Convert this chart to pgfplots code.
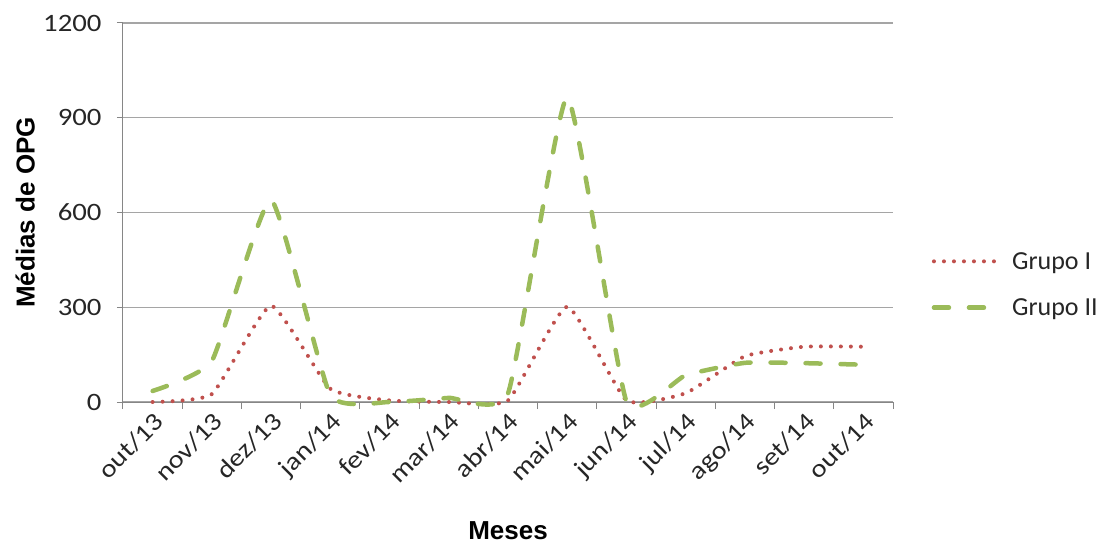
\documentclass[border=0pt]{standalone}
\usepackage{pgfplots}
\pgfplotsset{compat=1.18}
\usepackage{fontspec}
\setmainfont{Carlito}[FakeStretch=1.15]
\newfontfamily\legfont{Carlito}
\newfontfamily\titlefont{Liberation Sans}
\definecolor{redc}{RGB}{192,80,77}
\definecolor{greenc}{RGB}{155,187,89}
\definecolor{gridc}{RGB}{165,165,165}
\definecolor{axc}{RGB}{134,134,134}
\begin{document}
\begin{tikzpicture}
\begin{axis}[
  name=ax,
  scale only axis,
  width=770bp, height=379bp,
  xmin=-0.5, xmax=12.5,
  ymin=0, ymax=1200,
  axis lines=left,
  axis line style={-, draw=axc, line width=1bp},
  xtick={0,...,12},
  xticklabels={out/13,nov/13,dez/13,jan/14,fev/14,mar/14,abr/14,mai/14,jun/14,jul/14,ago/14,set/14,out/14},
  minor xtick={-0.5,0.5,...,12.5},
  major x tick style={draw=none},
  minor x tick style={draw=axc, line width=1bp},
  ytick={0,300,600,900,1200},
  y tick style={draw=axc, line width=1bp},
  tick align=outside,
  major tick length=6bp,
  minor tick length=7bp,
  ymajorgrids,
  major grid style={draw=gridc, line width=1.2bp},
  /pgf/number format/assume math mode=true,
  /pgf/number format/1000 sep={},
  tick label style={font=\fontsize{25bp}{29bp}\selectfont, text=black!85},
  xticklabel style={rotate=45, anchor=north east, inner sep=2bp},
  yticklabel style={xshift=-12bp},
  xlabel={Meses},
  ylabel={Médias de OPG},
  label style={font=\titlefont\bfseries\fontsize{26bp}{30bp}\selectfont},
  xlabel style={at={(axis description cs:0.5,-0.34)}, anchor=center},
  ylabel style={at={(axis description cs:-0.127,0.5)}, anchor=center, rotate=0},
  legend style={at={(axis description cs:1.05,0.31)}, anchor=west, draw=none, fill=none,
    font=\legfont\fontsize{26bp}{30bp}\selectfont, text=black!85, row sep=24bp, inner sep=0pt},
  legend cell align=left,
  legend image code/.code={\draw[#1] (0bp,0bp) -- (62bp,0bp); \path (74bp,0bp);},
  clip=false,
]
\addplot[redc, line width=4bp, line cap=round, dash pattern=on 0bp off 10bp, smooth, tension=0.27]
  coordinates {(0,0) (1,25) (2,305) (3,42) (4,5) (5,0) (6,5) (7,302) (8,5) (9,28) (10,145) (11,175) (12,175)};
\addlegendentry{Grupo I}
\addplot[greenc, line width=4.5bp, line cap=round, dash pattern=on 15bp off 20bp, smooth, tension=0.27]
  coordinates {(0,35) (1,130) (2,640) (3,22) (4,0) (5,13) (6,27) (7,965) (8,2) (9,85) (10,124) (11,123) (12,118)};
\addlegendentry{Grupo II}
\end{axis}
\pgfresetboundingbox
\path[use as bounding box] ([shift={(-123bp,-143bp)}]ax.south west) rectangle ([shift={(209bp,23bp)}]ax.north east);
\end{tikzpicture}
\end{document}
